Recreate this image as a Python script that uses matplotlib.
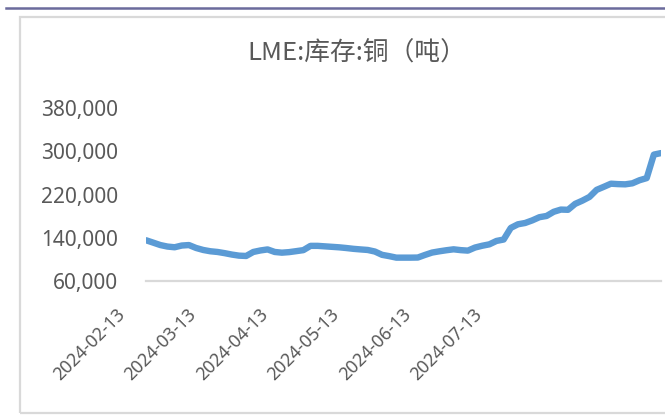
import matplotlib
matplotlib.use("Agg")
import matplotlib.pyplot as plt
from matplotlib.transforms import blended_transform_factory, ScaledTranslation
from matplotlib.patches import Rectangle
from matplotlib.lines import Line2D
import numpy as np

plt.rcParams['font.family'] = ['Noto Sans', 'Noto Sans CJK SC', 'DejaVu Sans']

title = "LME:库存:铜（吨）"

# stock values (thousand tonnes), evenly spaced observations
stock_k = [135.4, 131.0, 126.5, 123.7, 122.4, 125.6, 126.5, 121.1, 117.4, 115.0,
           113.7, 111.5, 108.9, 106.9, 106.3, 113.7, 116.5, 118.4, 113.7, 112.4,
           113.4, 115.2, 117.1, 125.0, 125.0, 124.1, 123.2, 122.3, 121.0, 119.5,
           118.4, 117.4, 114.5, 108.4, 106.0, 103.2, 103.2, 103.2, 103.4, 108.2,
           112.6, 114.9, 116.9, 118.6, 117.1, 116.2, 121.9, 125.2, 127.8, 134.1,
           136.7, 158.2, 164.9, 167.3, 172.1, 178.0, 180.3, 188.0, 192.1, 191.7,
           202.7, 208.6, 215.5, 228.6, 234.2, 240.0, 239.2, 238.8, 240.7, 246.4,
           250.3, 293.8, 296.6]
values = [v * 1000 for v in stock_k]

tick_labels = ["2024-02-13", "2024-03-13", "2024-04-13",
               "2024-05-13", "2024-06-13", "2024-07-13"]
label_interval = 10
y_ticks = [60000, 140000, 220000, 300000, 380000]

W, H = 665, 416
fig = plt.figure(figsize=(W / 100, H / 100), dpi=100)
fig.patch.set_facecolor('white')

# decorative frame
fig.add_artist(Line2D([6 / W, 1.0], [1 - 7.5 / H, 1 - 7.5 / H], color='#6b6b9c', lw=1.8))
fig.add_artist(Rectangle((20 / W, 1 - 413 / H), 700 / W, (413 - 17) / H,
                         fill=False, edgecolor='#d9d9d9', lw=1.6))

ax = fig.add_axes([146 / W, 1 - 281 / H, (661 - 146) / W, (281 - 108) / H])
x = np.arange(len(values))
ax.plot(x, values, color='#5b9bd5', lw=4.6, solid_capstyle='round', solid_joinstyle='round')
ax.set_xlim(0, len(values) - 1)
ax.set_ylim(60000, 380000)

ax.set_yticks(y_ticks)
ax.set_yticklabels([f"{v:,}" for v in y_ticks])
ax.tick_params(axis='y', length=0, pad=20, labelsize=15, labelcolor='#595959')

tick_pos = [i * label_interval for i in range(len(tick_labels))]
ax.set_xticks(tick_pos)
ax.set_xticklabels([''] * len(tick_pos))
ax.tick_params(axis='x', length=0)

for s in ['top', 'right', 'left']:
    ax.spines[s].set_visible(False)
ax.spines['bottom'].set_color('#d9d9d9')
ax.spines['bottom'].set_linewidth(1.6)

trans = blended_transform_factory(ax.transData, ax.transAxes) + \
    ScaledTranslation(-0.24, -0.31, fig.dpi_scale_trans)
for p, lab in zip(tick_pos, tick_labels):
    ax.text(p, 0, lab, transform=trans, rotation=45, ha='right', va='center',
            rotation_mode='anchor', fontsize=12.8, color='#595959', clip_on=False)

fig.text(357 / W, 1 - 54 / H, title, ha='center', va='center', fontsize=18.5,
         color='#595959', family=['Noto Sans CJK SC', 'DejaVu Sans'])

fig.savefig('out.png', dpi=100, facecolor='white')
